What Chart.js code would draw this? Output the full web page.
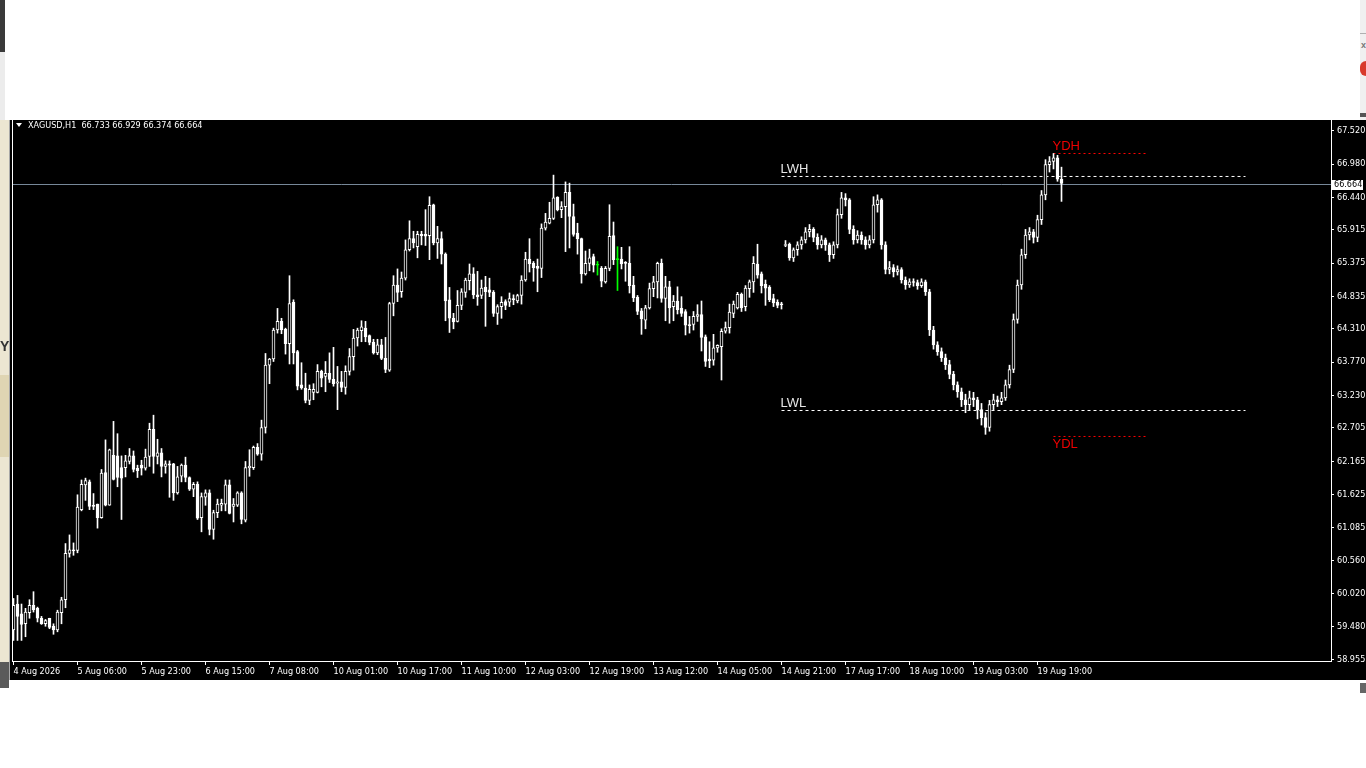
<!DOCTYPE html>
<html>
<head>
<meta charset="utf-8">
<script src="https://cdn.jsdelivr.net/npm/chart.js@4.4.1/dist/chart.umd.min.js"></script>
<style>
  body { margin: 0; background: #fff; width: 1366px; height: 768px; overflow: hidden; position: relative; }
  #wrap { position: absolute; left: 0; top: 120px; width: 1366px; height: 560px; background: #000; }
  .deco { position: absolute; }
</style>
</head>
<body>
<div class="deco" style="left:0;top:0;width:5px;height:52px;background:#3a3a3a"></div>
<div class="deco" style="left:0;top:52px;width:5px;height:68px;background:#ececec"></div>
<div class="deco" style="left:1360px;top:0;width:6px;height:120px;background:#f0f0f0"></div>
<div class="deco" style="left:1360px;top:33px;width:6px;height:1px;background:#b0b0b0"></div>
<div class="deco" style="left:1361px;top:40px;font:bold 9px sans-serif;color:#777">x</div>
<div class="deco" style="left:1360px;top:61px;width:12px;height:15px;border-radius:7px;background:#d8392b"></div>
<div class="deco" style="left:1360px;top:113px;width:6px;height:4px;background:#555"></div>
<div id="wrap"><canvas id="chart" width="1366" height="560"></canvas></div>
<div class="deco" style="left:0;top:120px;width:9px;height:560px;background:#ece6d2;border-right:1px solid #a8a8a8"></div>
<div class="deco" style="left:0;top:375px;width:9px;height:82px;background:#dfd5b3"></div>
<div class="deco" style="left:0;top:338px;font:bold 14px 'Liberation Sans';color:#333">Y</div>
<div class="deco" style="left:0;top:662px;width:9px;height:26px;background:#5a5a5a"></div>
<div class="deco" style="left:1360px;top:683px;width:6px;height:10px;background:#666"></div>
<script>
const symbolName = 'XAGUSD,H1';

const timeLabels = ['4 Aug 2026', '5 Aug 06:00', '5 Aug 23:00', '6 Aug 15:00', '7 Aug 08:00', '10 Aug 01:00',
  '10 Aug 17:00', '11 Aug 10:00', '12 Aug 03:00', '12 Aug 19:00', '13 Aug 12:00', '14 Aug 05:00',
  '14 Aug 21:00', '17 Aug 17:00', '18 Aug 10:00', '19 Aug 03:00', '19 Aug 19:00'];
const labelBars = [0, 16, 32, 48, 64, 80, 96, 112, 128, 144, 160, 176, 192, 208, 224, 240, 256];

const priceTicks = [67.520, 66.980, 66.440, 65.915, 65.375, 64.835, 64.310, 63.770, 63.230,
  62.705, 62.165, 61.625, 61.085, 60.560, 60.020, 59.480, 58.955];

const openPrices = [
  59.43, 59.85, 59.69, 59.53, 59.71, 59.83, 59.78, 59.62, 59.53, 59.62,
  59.49, 59.43, 59.71, 59.92, 60.67, 60.73, 60.72, 61.38, 61.78, 61.83,
  61.45, 61.47, 61.25, 61.98, 61.45, 62.26, 62.25, 62.06, 62.06, 62.16,
  62.25, 62.05, 62.10, 62.05, 62.24, 62.68, 62.24, 62.30, 62.08, 62.12,
  62.12, 61.65, 61.92, 62.10, 61.90, 61.71, 61.79, 61.25, 61.58, 61.65,
  61.06, 61.33, 61.45, 61.47, 61.78, 61.43, 61.45, 61.65, 61.21, 62.06,
  62.06, 62.39, 62.28, 62.71, 63.72, 63.82, 64.29, 64.43, 64.30, 64.07,
  64.74, 63.94, 63.40, 63.35, 63.15, 63.28, 63.28, 63.62, 63.54, 63.59,
  63.49, 63.43, 63.45, 63.36, 63.62, 63.86, 64.16, 64.28, 64.32, 64.20,
  64.09, 63.92, 64.05, 63.83, 63.64, 64.72, 65.02, 64.91, 65.13, 65.59,
  65.77, 65.64, 65.84, 65.84, 65.82, 66.32, 65.70, 65.77, 65.52, 64.78,
  64.48, 64.43, 64.69, 64.90, 65.09, 65.20, 64.86, 64.85, 64.98, 64.94,
  64.90, 64.56, 64.67, 64.75, 64.74, 64.80, 64.76, 64.85, 65.10, 65.44,
  65.37, 65.32, 65.29, 65.94, 66.02, 66.10, 66.44, 66.24, 66.29, 66.52,
  66.13, 65.86, 65.77, 65.20, 65.37, 65.48, 65.34, 65.29, 65.07, 65.29,
  65.82, 65.43, 65.44, 65.38, 65.37, 65.02, 64.82, 64.60, 64.45, 64.65,
  64.96, 65.07, 65.37, 64.80, 64.99, 64.67, 64.76, 64.64, 64.59, 64.38,
  64.38, 64.51, 64.54, 64.18, 63.82, 63.80, 64.00, 64.02, 64.27, 64.33,
  64.56, 64.65, 64.87, 64.67, 64.96, 65.07, 65.36, 65.20, 65.03, 64.98,
  64.80, 64.74, 64.71, 65.66, 65.68, 65.46, 65.59, 65.67, 65.75, 65.88,
  65.92, 65.79, 65.67, 65.75, 65.67, 65.51, 65.67, 66.16, 66.43, 66.40,
  65.92, 65.75, 65.83, 65.75, 65.67, 65.75, 66.32, 66.40, 65.67, 65.27,
  65.30, 65.23, 65.27, 65.10, 65.02, 65.07, 65.06, 65.01, 65.07, 64.91,
  64.29, 64.05, 63.94, 63.84, 63.73, 63.57, 63.40, 63.29, 63.16, 63.08,
  63.19, 63.16, 63.00, 62.87, 62.71, 63.08, 63.16, 63.13, 63.19, 63.40,
  63.65, 64.46, 65.02, 65.51, 65.83, 65.88, 65.79, 66.08, 66.48, 66.97,
  67.02, 67.08, 66.733];
const highPrices = [
  59.94, 59.99, 59.85, 59.78, 59.92, 60.05, 59.80, 59.65, 59.60, 59.62,
  59.53, 59.75, 59.96, 60.83, 60.97, 60.84, 61.62, 61.86, 61.89, 61.86,
  61.64, 61.47, 62.03, 62.51, 62.36, 62.81, 62.61, 62.25, 62.26, 62.37,
  62.33, 62.10, 62.18, 62.36, 62.78, 62.91, 62.52, 62.37, 62.17, 62.17,
  62.13, 62.08, 62.12, 62.23, 61.91, 61.82, 61.83, 61.65, 61.70, 61.70,
  61.37, 61.55, 61.55, 61.86, 61.86, 61.56, 61.67, 61.67, 62.16, 62.35,
  62.41, 62.45, 62.83, 63.91, 63.83, 64.32, 64.64, 64.48, 64.32, 65.17,
  64.78, 63.96, 63.76, 63.59, 63.40, 63.42, 63.73, 63.64, 63.78, 63.92,
  64.01, 63.70, 63.62, 63.71, 63.99, 64.30, 64.32, 64.44, 64.43, 64.21,
  64.14, 64.14, 64.14, 64.17, 64.74, 65.17, 65.28, 65.23, 65.75, 66.06,
  65.89, 65.89, 65.89, 66.24, 66.45, 66.33, 65.97, 65.88, 65.54, 64.98,
  64.56, 64.93, 64.96, 65.13, 65.36, 65.30, 65.24, 65.10, 65.16, 65.13,
  64.93, 64.70, 64.83, 64.78, 64.89, 64.86, 64.87, 65.17, 65.55, 65.77,
  65.40, 65.44, 66.01, 66.18, 66.36, 66.80, 66.45, 66.37, 66.69, 66.67,
  66.33, 66.02, 65.78, 65.57, 65.60, 65.52, 65.40, 65.32, 65.32, 66.32,
  66.04, 65.64, 65.63, 65.40, 65.64, 65.16, 64.85, 64.64, 64.69, 65.05,
  65.16, 65.39, 65.44, 65.16, 65.08, 64.85, 64.99, 64.83, 64.62, 64.51,
  64.59, 64.70, 64.76, 64.21, 64.10, 64.22, 64.05, 64.31, 64.42, 64.71,
  64.76, 64.90, 64.89, 65.01, 65.10, 65.48, 65.68, 65.23, 65.10, 65.01,
  64.87, 64.78, 64.74, 65.74, 65.70, 65.62, 65.72, 65.80, 65.95, 66.00,
  65.95, 65.85, 65.82, 65.78, 65.70, 65.72, 66.25, 66.52, 66.50, 66.42,
  65.98, 65.90, 65.88, 65.80, 65.82, 66.45, 66.48, 66.42, 65.72, 65.40,
  65.35, 65.33, 65.30, 65.15, 65.12, 65.12, 65.10, 65.12, 65.10, 64.95,
  64.35, 64.10, 64.00, 63.90, 63.80, 63.62, 63.45, 63.35, 63.25, 63.30,
  63.28, 63.20, 63.10, 62.95, 63.15, 63.25, 63.22, 63.28, 63.48, 63.72,
  64.55, 65.10, 65.60, 65.92, 65.95, 65.92, 66.15, 66.55, 67.05, 67.10,
  67.15, 67.12, 66.929];
const lowPrices = [
  59.26, 59.26, 59.26, 59.32, 59.62, 59.72, 59.56, 59.52, 59.49, 59.45,
  59.36, 59.40, 59.53, 59.79, 60.61, 60.64, 60.68, 61.36, 61.53, 61.38,
  61.38, 61.08, 61.24, 61.44, 61.45, 61.86, 61.75, 61.22, 61.91, 62.12,
  61.99, 61.90, 61.94, 62.02, 62.08, 61.97, 62.12, 61.91, 61.97, 61.58,
  61.53, 61.63, 61.83, 61.83, 61.69, 61.59, 61.22, 61.02, 61.45, 60.97,
  60.90, 61.25, 61.36, 61.36, 61.31, 61.18, 61.43, 61.15, 61.18, 61.92,
  62.03, 62.26, 62.18, 62.62, 63.42, 63.78, 64.24, 64.23, 63.90, 63.74,
  63.74, 63.32, 63.33, 63.11, 63.08, 63.16, 63.27, 63.37, 63.29, 63.44,
  63.38, 63.00, 63.29, 63.25, 63.56, 63.64, 64.03, 64.10, 64.10, 64.05,
  63.90, 63.89, 63.81, 63.60, 63.62, 64.52, 64.75, 64.82, 65.10, 65.57,
  65.62, 65.46, 65.67, 65.66, 65.43, 65.67, 65.45, 65.36, 64.44, 64.25,
  64.31, 64.42, 64.62, 64.82, 64.94, 64.80, 64.69, 64.80, 64.35, 64.83,
  64.51, 64.38, 64.48, 64.62, 64.67, 64.70, 64.73, 64.71, 65.08, 65.23,
  65.08, 64.91, 65.14, 65.91, 66.01, 66.08, 66.22, 66.11, 65.56, 65.62,
  65.81, 65.52, 65.05, 65.18, 65.25, 65.23, 65.18, 64.99, 65.05, 65.25,
  65.35, 64.93, 65.28, 65.08, 64.89, 64.75, 64.54, 64.22, 64.31, 64.63,
  64.83, 64.81, 64.74, 64.44, 64.40, 64.44, 64.55, 64.51, 64.21, 64.24,
  64.29, 64.43, 63.95, 63.70, 63.68, 63.72, 63.93, 63.48, 64.24, 64.24,
  64.49, 64.63, 64.59, 64.60, 64.82, 64.90, 65.13, 64.89, 64.69, 64.75,
  64.67, 64.65, 64.63, 65.64, 65.42, 65.40, 65.50, 65.60, 65.70, 65.80,
  65.72, 65.60, 65.62, 65.58, 65.40, 65.45, 65.62, 66.10, 66.30, 65.85,
  65.68, 65.70, 65.68, 65.60, 65.62, 65.70, 66.20, 65.60, 65.20, 65.20,
  65.15, 65.18, 65.05, 64.95, 64.98, 65.00, 64.95, 64.98, 64.85, 64.20,
  63.98, 63.88, 63.78, 63.65, 63.50, 63.32, 63.20, 63.05, 62.95, 63.00,
  63.05, 62.85, 62.75, 62.60, 62.65, 63.00, 63.05, 63.08, 63.15, 63.35,
  63.60, 64.40, 64.95, 65.45, 65.75, 65.70, 65.72, 66.00, 66.40, 66.85,
  66.90, 66.70, 66.374];
const closePrices = [
  59.83, 59.65, 59.52, 59.72, 59.83, 59.76, 59.62, 59.53, 59.58, 59.47,
  59.43, 59.72, 59.92, 60.67, 60.73, 60.71, 61.42, 61.79, 61.85, 61.43,
  61.43, 61.25, 61.97, 61.45, 62.35, 61.87, 61.90, 61.89, 62.17, 62.25,
  62.03, 62.01, 62.05, 62.23, 62.68, 62.24, 62.30, 62.08, 62.12, 62.10,
  61.65, 61.91, 62.10, 61.90, 61.71, 61.79, 61.24, 61.59, 61.65, 61.06,
  61.33, 61.47, 61.48, 61.78, 61.32, 61.47, 61.65, 61.22, 62.06, 62.08,
  62.39, 62.28, 62.71, 63.72, 63.82, 64.29, 64.43, 64.29, 64.07, 64.72,
  63.92, 63.38, 63.35, 63.15, 63.33, 63.33, 63.62, 63.51, 63.59, 63.49,
  63.42, 63.45, 63.36, 63.62, 63.86, 64.16, 64.29, 64.34, 64.18, 64.09,
  63.92, 64.05, 63.83, 63.65, 64.72, 65.02, 64.90, 65.13, 65.59, 65.77,
  65.70, 65.84, 65.82, 65.81, 66.31, 65.70, 65.77, 65.52, 64.76, 64.48,
  64.42, 64.69, 64.91, 65.10, 65.20, 64.86, 64.83, 64.97, 64.91, 64.90,
  64.56, 64.67, 64.74, 64.69, 64.80, 64.78, 64.85, 65.10, 65.44, 65.36,
  65.30, 65.29, 65.94, 66.04, 66.10, 66.43, 66.24, 66.29, 66.52, 66.13,
  65.84, 65.77, 65.20, 65.37, 65.46, 65.34, 65.34, 65.08, 65.29, 65.81,
  65.43, 65.43, 65.36, 65.37, 65.01, 64.81, 64.59, 64.47, 64.65, 64.96,
  65.07, 65.37, 64.80, 64.99, 64.65, 64.76, 64.62, 64.56, 64.37, 64.36,
  64.51, 64.54, 64.17, 63.78, 63.79, 64.00, 64.04, 64.27, 64.33, 64.58,
  64.71, 64.87, 64.65, 64.97, 65.07, 65.37, 65.18, 65.01, 64.97, 64.78,
  64.73, 64.69, 64.70, 65.67, 65.46, 65.59, 65.67, 65.75, 65.88, 65.92,
  65.79, 65.67, 65.75, 65.67, 65.51, 65.67, 66.16, 66.43, 66.40, 65.92,
  65.75, 65.83, 65.75, 65.67, 65.75, 66.32, 66.40, 65.67, 65.27, 65.30,
  65.23, 65.27, 65.10, 65.02, 65.07, 65.06, 65.01, 65.07, 64.91, 64.29,
  64.05, 63.94, 63.84, 63.73, 63.57, 63.40, 63.29, 63.16, 63.08, 63.19,
  63.16, 63.00, 62.87, 62.71, 63.08, 63.16, 63.13, 63.19, 63.40, 63.65,
  64.46, 65.02, 65.51, 65.83, 65.88, 65.79, 66.08, 66.48, 66.97, 67.02,
  67.08, 66.733, 66.664];

// level lines: last week high/low, yesterday high/low
const levelNames = ['LWH', 'LWL', 'YDH', 'YDL'];
const levelValues = [66.778, 62.986, 67.150, 62.565];
const levelFromBar = [192, 192, 260, 260];
const levelToBar = [308, 308, 283, 283];

const font9 = { family: '"DejaVu Sans Condensed", "Liberation Sans", sans-serif', size: 9 };
const levelStyle = {
  LWH: { color: '#ffffff', dash: [3, 3], text: '#e6e6e6', side: 'above' },
  LWL: { color: '#ffffff', dash: [3, 3], text: '#e6e6e6', side: 'above' },
  YDH: { color: '#ff0000', dash: [2, 3], text: '#ee0000', side: 'above' },
  YDL: { color: '#ff0000', dash: [2, 3], text: '#ee0000', side: 'below' }
};

const bars = openPrices.map((o, i) => i);
const isDoji = i => openPrices[i] === closePrices[i];

const levelDatasets = levelNames.map((name, k) => ({
  type: 'line',
  label: name,
  data: [{ x: levelFromBar[k], y: levelValues[k] }, { x: levelToBar[k], y: levelValues[k] }],
  borderColor: levelStyle[name].color,
  borderWidth: 1,
  borderDash: levelStyle[name].dash,
  pointRadius: 0,
  order: 2
}));

const mt4Plugin = {
  id: 'mt4',
  beforeDatasetsDraw(chart) {
    const c = chart.ctx, a = chart.chartArea;
    const y = Math.round(chart.scales.y.getPixelForValue(closePrices[closePrices.length - 1])) + 0.5;
    c.save();
    c.strokeStyle = '#778899';
    c.lineWidth = 1;
    c.beginPath();
    c.moveTo(a.left, y);
    c.lineTo(a.right, y);
    c.stroke();
    c.restore();
  },
  afterDraw(chart) {
    const c = chart.ctx, a = chart.chartArea;
    const last = closePrices.length - 1;
    c.save();
    // left frame line
    c.fillStyle = '#ffffff';
    c.fillRect(a.left, a.top, 1, a.bottom - a.top);

    // header
    c.beginPath();
    c.moveTo(16, 3); c.lineTo(22, 3); c.lineTo(19, 7); c.closePath();
    c.fill();
    c.font = '9px ' + font9.family;
    c.textBaseline = 'middle';
    c.textAlign = 'left';
    c.fillText(symbolName + '  ' + [openPrices[last], highPrices[last], lowPrices[last], closePrices[last]]
      .map(v => v.toFixed(3)).join(' '), 28, 5.5);

    // level labels
    c.font = '13px "Liberation Sans", Arial, sans-serif';
    levelNames.forEach((name, k) => {
      const meta = chart.getDatasetMeta(k + 2);
      const p = meta.data[0];
      const st = levelStyle[name];
      c.fillStyle = st.text;
      c.textBaseline = st.side === 'above' ? 'bottom' : 'top';
      c.fillText(name, p.x - 1, st.side === 'above' ? p.y - 1 : p.y + 1);
    });

    // current price box
    const y = Math.round(chart.scales.y.getPixelForValue(closePrices[last]));
    c.fillStyle = '#ffffff';
    c.fillRect(a.right + 1, y - 4, 31, 10);
    c.fillStyle = '#000000';
    c.font = '9px ' + font9.family;
    c.textBaseline = 'middle';
    c.fillText(closePrices[last].toFixed(3), a.right + 3, y + 1);
    c.restore();
  }
};

new Chart(document.getElementById('chart').getContext('2d'), {
  type: 'bar',
  data: {
    datasets: [
      {
        label: 'body',
        data: bars.map(i => ({ x: i, y: [openPrices[i], closePrices[i]] })),
        backgroundColor: ctx => isDoji(ctx.dataIndex) ? '#00ff00'
          : (closePrices[ctx.dataIndex] > openPrices[ctx.dataIndex] ? '#000000' : '#ffffff'),
        borderColor: ctx => isDoji(ctx.dataIndex) ? '#00ff00' : '#ffffff',
        borderWidth: 1,
        borderSkipped: false,
        barThickness: 3,
        minBarLength: 1,
        grouped: false,
        order: 0
      },
      {
        label: 'wick',
        data: bars.map(i => ({ x: i, y: [lowPrices[i], highPrices[i]] })),
        backgroundColor: ctx => isDoji(ctx.dataIndex) ? '#00ff00' : '#ffffff',
        borderWidth: 0,
        barThickness: 1,
        grouped: false,
        order: 1
      },
      ...levelDatasets
    ]
  },
  options: {
    responsive: false,
    animation: false,
    layout: { padding: { left: 12, top: 0, right: 0, bottom: 0 } },
    plugins: { legend: { display: false }, tooltip: { enabled: false } },
    scales: {
      x: {
        type: 'linear',
        min: -0.375,
        max: 329.375,
        bounds: 'data',
        offset: false,
        afterBuildTicks: s => { s.ticks = labelBars.map(v => ({ value: v })); },
        afterFit: s => { s.height = 19; s.paddingLeft = 0; s.paddingRight = 0; },
        grid: { drawOnChartArea: false, drawTicks: true, tickLength: 4, color: '#ffffff', offset: false },
        border: { display: true, color: '#ffffff', width: 1 },
        ticks: {
          autoSkip: false, maxRotation: 0, align: 'start', padding: 1, color: '#ffffff', font: font9,
          callback: v => timeLabels[labelBars.indexOf(v)]
        }
      },
      y: {
        position: 'right',
        min: 58.927,
        max: 67.693,
        bounds: 'data',
        afterBuildTicks: s => { s.ticks = priceTicks.map(v => ({ value: v })); },
        afterFit: s => { s.width = 35; s.paddingTop = 0; s.paddingBottom = 0; },
        grid: { drawOnChartArea: false, drawTicks: true, tickLength: 3, color: '#ffffff' },
        border: { display: true, color: '#ffffff', width: 1 },
        ticks: { padding: 3, color: '#ffffff', font: font9, callback: v => v.toFixed(3) }
      }
    }
  },
  plugins: [mt4Plugin]
});
</script>
</body>
</html>
